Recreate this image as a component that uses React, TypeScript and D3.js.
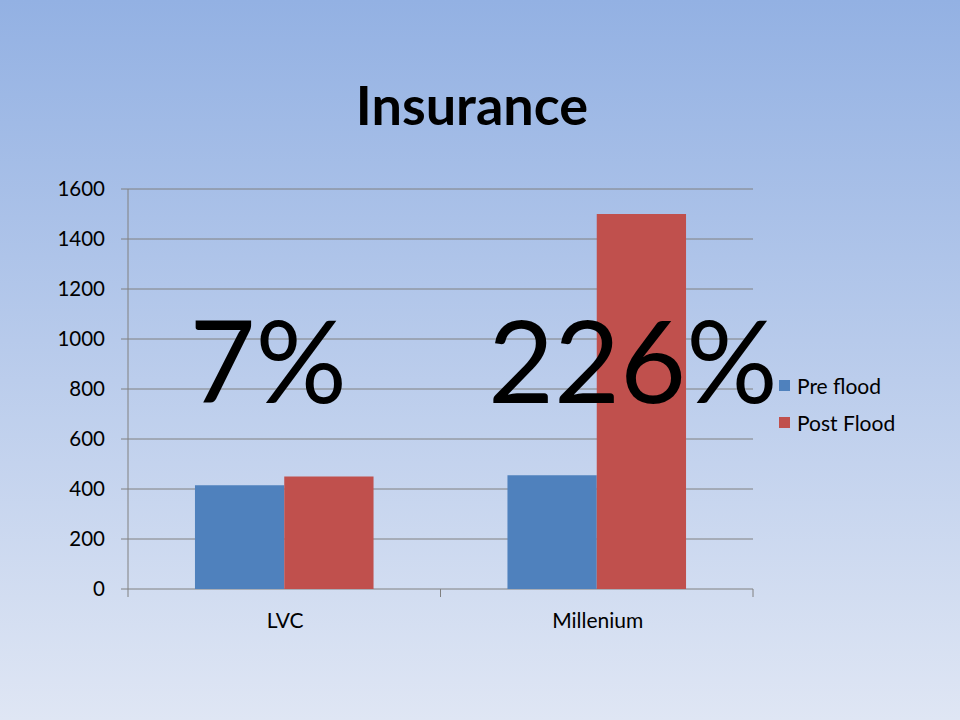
import React from "react";
import * as d3 from "d3";

const categories = ["LVC", "Millenium"];
const seriesNames = ["Pre flood", "Post Flood"];
const preFlood = [415, 455];
const postFlood = [450, 1500];
const yTicks = [0, 200, 400, 600, 800, 1000, 1200, 1400, 1600];
const overlayLabels = ["7%", "226%"];
const colors = ["#4f81bd", "#c0504d"];

export default function App() {
  const W = 960, H = 720;
  const left = 128, right = 753, top = 189, bottom = 589;
  const font = "Lato, 'Open Sans', sans-serif";
  const y = d3.scaleLinear().domain([0, 1600]).range([bottom, top]);
  const x0 = d3.scaleBand().domain(categories).range([left, right]).paddingInner(0).paddingOuter(0);
  const bw = x0.bandwidth() / 3.5;
  const series = [preFlood, postFlood];
  return (
    <svg width={W} height={H} style={{ position: "absolute", left: 0, top: 0 }}>
      <defs>
        <linearGradient id="bg" x1="0" y1="0" x2="0" y2="1">
          <stop offset="0" stopColor="#93b1e3" />
          <stop offset="1" stopColor="#dfe6f4" />
        </linearGradient>
      </defs>
      <rect width={W} height={H} fill="url(#bg)" />
      <text x={472} y={125} textAnchor="middle" fontFamily={font} fontWeight="bold" fontSize={54} fill="#000">Insurance</text>
      {yTicks.map((t) => (
        <g key={t}>
          <line x1={left - 7} x2={right} y1={y(t)} y2={y(t)} stroke="#808080" strokeWidth={1} />
          <text x={105} y={y(t) + 7} textAnchor="end" fontFamily={font} fontSize={20.5} fill="#000">{t}</text>
        </g>
      ))}
      <line x1={left} x2={left} y1={top} y2={bottom} stroke="#808080" />
      {[0, 1, 2].map((i) => {
        const xx = left + i * x0.bandwidth();
        return <line key={i} x1={xx} x2={xx} y1={bottom} y2={bottom + 8} stroke="#808080" />;
      })}
      {categories.map((c, ci) => (
        <g key={c}>
          {series.map((s, si) => {
            const bx = (x0(c) as number) + 0.75 * bw + si * bw;
            return <rect key={si} x={bx} y={y(s[ci])} width={bw} height={bottom - y(s[ci])} fill={colors[si]} />;
          })}
          <text x={(x0(c) as number) + x0.bandwidth() / 2 + 1} y={628} textAnchor="middle" fontFamily={font} fontSize={21} fill="#000">{c}</text>
        </g>
      ))}
      {overlayLabels.map((l, i) => (
        <text key={l} x={(x0(categories[i]) as number) + x0.bandwidth() / 2 + (i === 1 ? 36 : -16)} y={403} textAnchor="middle" fontFamily={font} fontSize={114} fill="#000">{l}</text>
      ))}
      {seriesNames.map((n, i) => (
        <g key={n}>
          <rect x={779} y={380 + i * 37} width={11} height={11} fill={colors[i]} />
          <text x={797} y={394 + i * 37} fontFamily={font} fontSize={21} fill="#000">{n}</text>
        </g>
      ))}
    </svg>
  );
}
